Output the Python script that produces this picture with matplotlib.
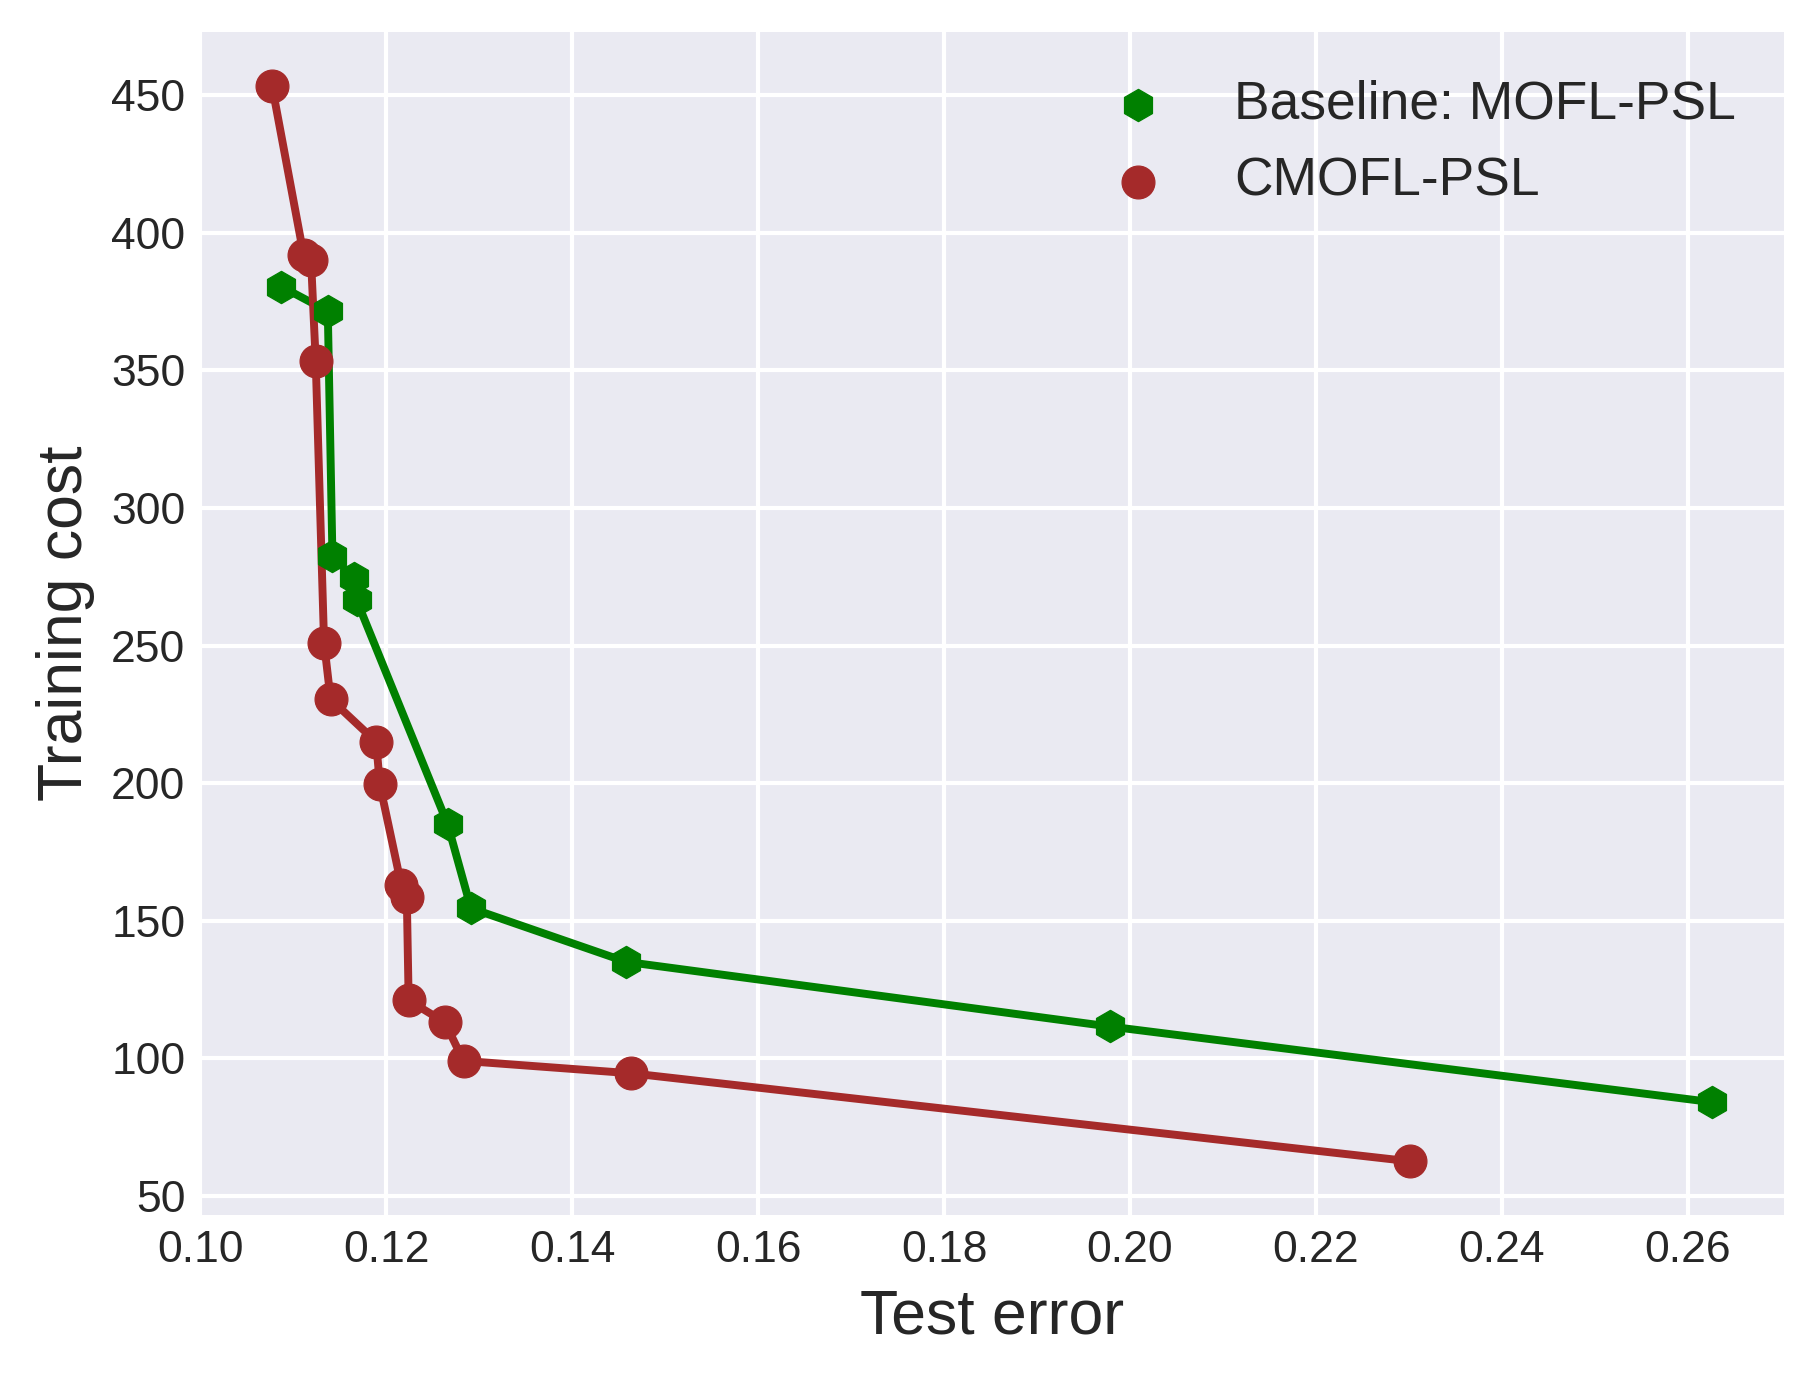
import numpy as np
import matplotlib
matplotlib.use("Agg")
import matplotlib.pyplot as plt

# --- data ---
base_err = [0.1087, 0.1137, 0.1142, 0.1165, 0.1168, 0.1266, 0.1291, 0.1458, 0.1978, 0.2626]
base_cost = [380.5, 371.5, 282.5, 274.5, 266.5, 185.0, 154.5, 135.0, 111.5, 84.0]

cm_err = [0.1077, 0.1111, 0.1119, 0.1124, 0.1133, 0.1140, 0.1189, 0.1193,
          0.1216, 0.1222, 0.1224, 0.1263, 0.1283, 0.1463, 0.2301]
cm_cost = [453.5, 392.0, 390.0, 353.5, 251.0, 230.5, 215.0, 199.5,
           163.0, 158.5, 121.0, 113.0, 99.0, 94.5, 62.5]

plt.style.use('seaborn-v0_8')
plt.rcParams['font.family'] = ['Liberation Sans', 'DejaVu Sans']

fig = plt.figure(figsize=(6.05, 4.59), dpi=300)
ax = fig.add_axes([0.1102, 0.1176, 0.8727, 0.8592])

ax.plot(base_err, base_cost, color='green', lw=1.9, zorder=2)
ax.scatter(base_err, base_cost, marker='h', s=60, color='green',
           label='Baseline: MOFL-PSL', zorder=3)
ax.plot(cm_err, cm_cost, color='brown', lw=1.9, zorder=2)
ax.scatter(cm_err, cm_cost, marker='o', s=62, color='brown',
           label='CMOFL-PSL', zorder=3)

ax.set_xlabel('Test error', fontsize=15)
ax.set_ylabel('Training cost', fontsize=15)
ax.tick_params(labelsize=10.7, pad=3.5)
ax.set_xticks(np.arange(0.10, 0.261, 0.02))
ax.set_yticks(np.arange(50, 451, 50))
ax.legend(loc='upper right', fontsize=12.8, frameon=False)

fig.savefig('out.png', dpi=300)
